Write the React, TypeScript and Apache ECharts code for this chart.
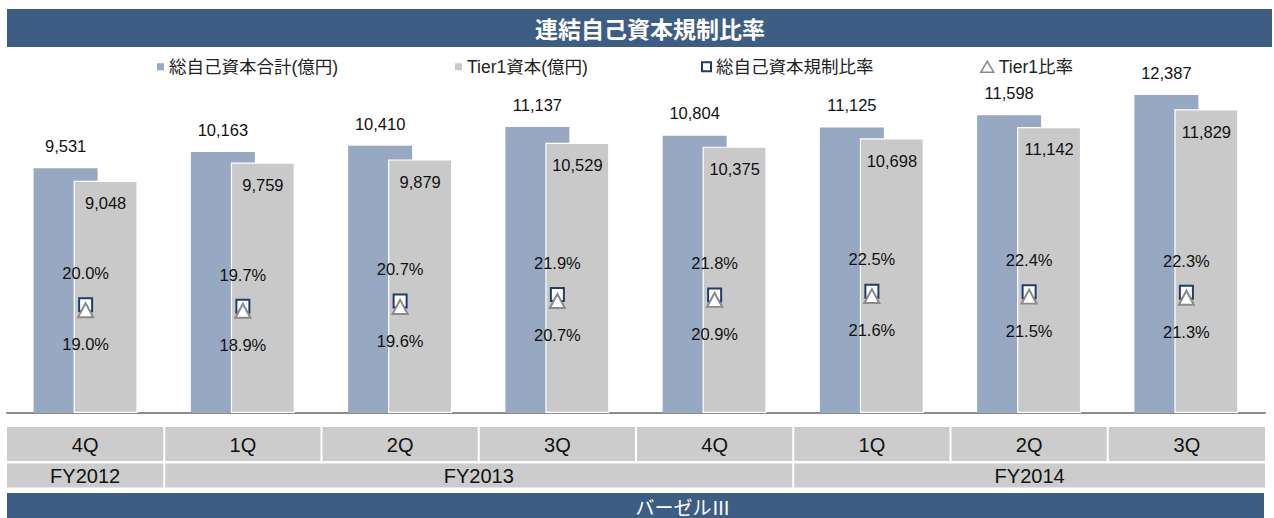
import React, { useEffect, useRef } from "react";
import * as echarts from "echarts";

const periods = ["FY2012 4Q", "FY2013 1Q", "FY2013 2Q", "FY2013 3Q", "FY2013 4Q", "FY2014 1Q", "FY2014 2Q", "FY2014 3Q"];
const quarterLabels = ["4Q", "1Q", "2Q", "3Q", "4Q", "1Q", "2Q", "3Q"];
const fiscalYears = ["FY2012", "FY2013", "FY2014"];
const fiscalYearSpans = [1, 4, 3];
const totalCapital = [9531, 10163, 10410, 11137, 10804, 11125, 11598, 12387];
const tier1Capital = [9048, 9759, 9879, 10529, 10375, 10698, 11142, 11829];
const capitalRatio = [20.0, 19.7, 20.7, 21.9, 21.8, 22.5, 22.4, 22.3];
const tier1Ratio = [19.0, 18.9, 19.6, 20.7, 20.9, 21.6, 21.5, 21.3];

const titleText = "連結自己資本規制比率";
const footerText = "バーゼルⅢ";
const nameTotal = "総自己資本合計(億円)";
const nameTier1 = "Tier1資本(億円)";
const nameCapRatio = "総自己資本規制比率";
const nameTier1Ratio = "Tier1比率";

const FONT = "'Liberation Sans', Arial, 'Noto Sans CJK JP', sans-serif";
const CJK = "'Noto Sans CJK JP', sans-serif";
const NAVY = "#3e5d82";
const BLUE = "#97a8c2";
const GREY = "#c9c9c9";
const CELL = "#cccccc";

export default function App() {
  const ref = useRef<HTMLDivElement>(null);

  useEffect(() => {
    if (!ref.current) return;
    const chart = echarts.init(ref.current, null, { renderer: "svg" });

    const gridLeft = 7;
    const gridWidth = 1258;
    const gridTop = 53.6;
    const gridBottom = 105;
    const cellW = gridWidth / periods.length;

    const graphics: any[] = [];
    graphics.push({ type: "rect", shape: { x: 7, y: 9, width: 1265, height: 38 }, style: { fill: NAVY }, silent: true });
    graphics.push({
      type: "text", x: 650, y: 28,
      style: { text: titleText, fill: "#fff", font: `bold 23px ${CJK}`, textAlign: "center", textVerticalAlign: "middle" },
    });
    quarterLabels.forEach((q, i) => {
      const x0 = gridLeft + i * cellW + (i === 0 ? 0 : 1);
      const x1 = gridLeft + (i + 1) * cellW - (i === quarterLabels.length - 1 ? 0 : 1);
      graphics.push({ type: "rect", shape: { x: x0, y: 427, width: x1 - x0, height: 34 }, style: { fill: CELL }, silent: true });
      graphics.push({
        type: "text", x: (x0 + x1) / 2, y: 444.5,
        style: { text: q, fill: "#111", font: `20px ${FONT}`, textAlign: "center", textVerticalAlign: "middle" },
      });
    });
    let start = 0;
    fiscalYears.forEach((fy, i) => {
      const span = fiscalYearSpans[i];
      const x0 = gridLeft + start * cellW + (start === 0 ? 0 : 1);
      const end = start + span;
      const x1 = gridLeft + end * cellW - (end === periods.length ? 0 : 1);
      graphics.push({ type: "rect", shape: { x: x0, y: 463.5, width: x1 - x0, height: 24 }, style: { fill: CELL }, silent: true });
      graphics.push({
        type: "text", x: (x0 + x1) / 2, y: 476,
        style: { text: fy, fill: "#111", font: `20px ${FONT}`, textAlign: "center", textVerticalAlign: "middle" },
      });
      start = end;
    });
    graphics.push({ type: "rect", shape: { x: 7, y: 493, width: 1257, height: 25 }, style: { fill: NAVY }, silent: true });
    graphics.push({
      type: "text", x: 683, y: 506,
      style: { text: footerText, fill: "#fff", font: `19px ${CJK}`, textAlign: "center", textVerticalAlign: "middle" },
    });

    const legendText = { fontSize: 17.5, color: "#222", fontFamily: FONT };

    chart.setOption({
      animation: false,
      backgroundColor: "#fff",
      textStyle: { fontFamily: FONT },
      grid: { left: gridLeft, width: gridWidth, top: gridTop, bottom: gridBottom, containLabel: false },
      legend: [
        { data: [nameTotal], left: 157, top: 58, padding: 0, icon: "rect", itemWidth: 7, itemHeight: 7, textStyle: legendText, itemStyle: { color: BLUE } },
        { data: [nameTier1], left: 455, top: 58, padding: 0, icon: "rect", itemWidth: 7, itemHeight: 7, textStyle: legendText, itemStyle: { color: GREY, borderWidth: 0 } },
        { data: [nameCapRatio], left: 701, top: 58, padding: 0, icon: "rect", itemWidth: 9, itemHeight: 9, textStyle: legendText, itemStyle: { color: "#fff", borderColor: "#1f3d6b", borderWidth: 2 } },
        { data: [nameTier1Ratio], left: 980, top: 58, padding: 0, icon: "triangle", itemWidth: 13, itemHeight: 11, itemGap: 0, textStyle: legendText, itemStyle: { color: "#fff", borderColor: "#8a8a8a", borderWidth: 1.5 } },
      ],
      xAxis: {
        type: "category",
        data: periods,
        axisLine: { show: true, lineStyle: { color: "#8c8c8c", width: 2 } },
        axisTick: { show: false },
        axisLabel: { show: false },
      },
      yAxis: [
        { type: "value", min: 0, max: 14000, show: false, splitLine: { show: false } },
        { type: "value", min: 0, max: 66.4, show: false, splitLine: { show: false } },
      ],
      series: [
        {
          name: nameTotal,
          type: "bar",
          data: totalCapital,
          barWidth: 64,
          barGap: "-37.5%",
          itemStyle: { color: BLUE },
          label: {
            show: true, position: "top", distance: 14, color: "#111", fontSize: 16.5, fontFamily: FONT,
            formatter: (p: any) => Number(p.value).toLocaleString("en-US"),
          },
        },
        {
          name: nameTier1,
          type: "bar",
          data: tier1Capital,
          barWidth: 64,
          itemStyle: { color: GREY, borderColor: "#fff", borderWidth: 1.2 },
          label: {
            show: true, position: "insideTop", distance: 14, color: "#111", fontSize: 16.5, fontFamily: FONT,
            formatter: (p: any) => Number(p.value).toLocaleString("en-US"),
          },
        },
        {
          name: nameCapRatio,
          type: "scatter",
          yAxisIndex: 1,
          data: capitalRatio,
          symbol: "rect",
          symbolSize: 13,
          itemStyle: { color: "#fff", borderColor: "#1f3d6b", borderWidth: 2, opacity: 1 },
          label: {
            show: true, position: "top", distance: 16, color: "#111", fontSize: 16.5, fontFamily: FONT,
            formatter: (p: any) => Number(p.value).toFixed(1) + "%",
          },
          z: 3,
        },
        {
          name: nameTier1Ratio,
          type: "scatter",
          yAxisIndex: 1,
          data: tier1Ratio,
          symbol: "triangle",
          symbolSize: [15, 14],
          itemStyle: { color: "#fff", borderColor: "#8a8a8a", borderWidth: 2, opacity: 1 },
          label: {
            show: true, position: "bottom", distance: 18, color: "#111", fontSize: 16.5, fontFamily: FONT,
            formatter: (p: any) => Number(p.value).toFixed(1) + "%",
          },
          z: 4,
        },
      ],
      graphic: graphics,
    });

    return () => chart.dispose();
  }, []);

  return <div ref={ref} style={{ position: "absolute", left: 0, top: 0, width: 1274, height: 518 }} />;
}
